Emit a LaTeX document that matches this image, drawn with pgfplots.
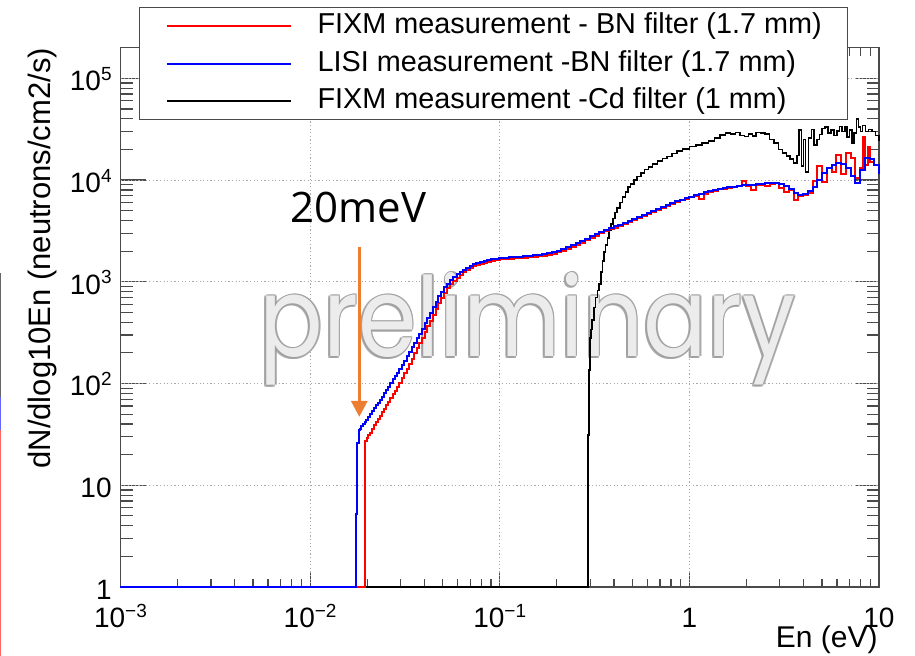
\documentclass[border=0pt]{standalone}
\usepackage{fontspec}
\setmainfont{Liberation Sans}
\newfontfamily\wmfont{Poppins}
\newfontfamily\annfont{Open Sans}
\usepackage{graphicx}
\usepackage{pgfplots}
\pgfplotsset{compat=1.18}
\usepackage{pgfplotstable}
\usetikzlibrary{arrows.meta}

\definecolor{framegray}{HTML}{4A4A4A}
\definecolor{gridgray}{HTML}{A8A8A8}
\definecolor{arroworange}{HTML}{ED7D31}
\newcommand{\sps}[1]{\raisebox{5.2pt}{\fontsize{9.5}{9.5}\selectfont #1}}
\newcommand{\wmtext}{\resizebox{268pt}{42pt}{\wmfont preliminary}}
\tikzset{wmrim/.style={anchor=base west, inner sep=0pt, text=gray!75, opacity=0.85}}

% LISI measurement, BN filter (1.7 mm)
\pgfplotstableread{
x y
0.001 1
0.01740 5.2
0.01770 26
0.01800 35
0.01830 36
0.01860 38
0.01900 40
0.01940 42
0.01980 44
0.02020 47
0.02070 50
0.02120 54
0.02170 57
0.02220 61
0.02270 65
0.02330 69
0.02390 74
0.02450 80
0.02510 86
0.02580 93
0.02650 102
0.02720 110
0.02800 118
0.02880 127
0.02960 138
0.03050 152
0.03140 168
0.03230 185
0.03330 204
0.03430 226
0.03540 250
0.03650 278
0.03770 310
0.03890 345
0.04020 390
0.04150 440
0.04290 495
0.04440 560
0.04590 640
0.04750 720
0.04920 800
0.05100 880
0.05290 960
0.05490 1040
0.05700 1110
0.05920 1180
0.06150 1250
0.06400 1320
0.06660 1380
0.06940 1440
0.07230 1490
0.07540 1530
0.07870 1570
0.08220 1610
0.08600 1640
0.09000 1670
0.09430 1690
0.09880 1710
0.1000 1720
0.1059 1730
0.1122 1740
0.1189 1755
0.1259 1770
0.1334 1785
0.1413 1800
0.1496 1815
0.1585 1835
0.1679 1860
0.1778 1900
0.1884 1950
0.1995 2020
0.2113 2100
0.2239 2190
0.2371 2290
0.2512 2400
0.2661 2520
0.2818 2650
0.2985 2790
0.3162 2940
0.3350 3080
0.3548 3220
0.3758 3360
0.3981 3500
0.4217 3650
0.4467 3800
0.4732 3960
0.5012 4130
0.5309 4320
0.5623 4520
0.5957 4730
0.6310 4950
0.6683 5180
0.7079 5420
0.7499 5670
0.7943 5920
0.8414 6170
0.8913 6420
0.9441 6650
1.000 6870
1.059 7100
1.122 7330
1.189 7560
1.259 7780
1.334 7990
1.413 8180
1.496 8350
1.585 8500
1.679 8640
1.778 8760
1.884 8870
1.995 8960
2.113 9040
2.239 9100
2.371 9150
2.512 9250
2.661 9380
2.818 9420
2.985 9200
3.162 8700
3.350 8100
3.548 7500
3.758 7100
3.981 7300
4.217 7800
4.467 8600
4.732 10000
5.012 11800
5.309 13200
5.623 14200
5.957 14700
6.310 14300
6.683 13000
7.079 11000
7.499 9400
7.943 12500
8.414 16300
8.913 16200
9.441 14000
10.00 11500
}\tlisi

% FIXM measurement, BN filter (1.7 mm)
\pgfplotstableread{
x y
0.001 1
0.01948 27
0.01990 29
0.02030 31
0.02070 33
0.02120 36
0.02170 39
0.02220 42
0.02270 45
0.02330 48
0.02390 52
0.02450 56
0.02510 61
0.02580 66
0.02650 72
0.02720 78
0.02800 85
0.02880 93
0.02960 102
0.03050 113
0.03140 126
0.03230 140
0.03330 157
0.03430 176
0.03540 198
0.03650 222
0.03770 250
0.03890 282
0.04020 320
0.04150 365
0.04290 415
0.04440 475
0.04590 545
0.04750 620
0.04920 700
0.05100 780
0.05290 860
0.05490 945
0.05700 1020
0.05920 1095
0.06150 1165
0.06400 1235
0.06660 1300
0.06940 1360
0.07230 1415
0.07540 1460
0.07870 1500
0.08220 1540
0.08600 1575
0.09000 1605
0.09430 1630
0.09880 1650
0.1000 1665
0.1059 1680
0.1122 1690
0.1189 1705
0.1259 1715
0.1334 1730
0.1413 1745
0.1496 1760
0.1585 1780
0.1679 1800
0.1778 1835
0.1884 1880
0.1995 1945
0.2113 2020
0.2239 2110
0.2371 2200
0.2512 2310
0.2661 2430
0.2818 2560
0.2985 2700
0.3162 2850
0.3350 2990
0.3548 3130
0.3758 3270
0.3981 3410
0.4217 3560
0.4467 3710
0.4732 3870
0.5012 4040
0.5309 4230
0.5623 4420
0.5957 4630
0.6310 4850
0.6683 5080
0.7079 5330
0.7499 5580
0.7943 5850
0.8414 6100
0.8913 6350
0.9441 6580
1.000 6800
1.059 7000
1.122 6500
1.189 7300
1.259 7600
1.334 7800
1.413 8100
1.496 8250
1.585 8400
1.679 8500
1.778 8650
1.884 9700
1.995 8800
2.113 8000
2.239 8900
2.371 9000
2.512 8700
2.661 9100
2.818 9300
2.985 8400
3.162 7700
3.350 8000
3.548 6300
3.758 6900
3.981 7200
4.217 7400
4.467 9800
4.732 13800
5.012 9500
5.309 13000
5.623 12000
5.957 17800
6.310 11500
6.683 18600
7.079 16500
7.499 10500
7.943 13000
8.200 26500
8.414 14000
8.700 21300
9.000 15000
9.441 14000
10.00 12000
}\tfixmbn

% FIXM measurement, Cd filter (1 mm)
\pgfplotstableread{
x y
0.001 1
0.2920 31
0.2965 136
0.2985 280
0.3020 340
0.3070 420
0.3130 560
0.3200 700
0.3270 820
0.3340 950
0.3410 1250
0.3480 1600
0.3550 1950
0.3620 2300
0.3700 2700
0.3780 3200
0.3860 3700
0.3950 4200
0.4050 4800
0.4150 5300
0.4300 6000
0.4450 6800
0.4600 7600
0.4750 8500
0.4900 9200
0.5100 10000
0.5300 10800
0.5550 11800
0.5800 12700
0.6100 13500
0.6400 14300
0.6800 15300
0.7200 16300
0.7600 17000
0.8100 18200
0.8600 19200
0.9200 20300
1.000 21300
1.080 22200
1.170 23200
1.260 24300
1.360 26000
1.450 27700
1.550 29000
1.650 28200
1.750 29300
1.850 27400
1.950 26700
2.050 28500
2.150 27000
2.250 29300
2.370 29000
2.500 28200
2.650 25000
2.800 23000
2.950 20000
3.100 18500
3.250 17200
3.400 16000
3.550 14800
3.700 17500
3.800 31000
3.900 13800
4.000 25000
4.100 12000
4.250 26000
4.400 31500
4.550 22000
4.700 25000
4.850 28000
5.000 32000
5.200 33000
5.400 29000
5.600 31000
5.800 27500
6.000 30500
6.200 33500
6.400 30000
6.600 33000
6.800 26500
7.000 31000
7.200 23000
7.400 29000
7.600 40000
7.800 33000
8.000 30000
8.200 34500
8.500 30000
8.800 31500
9.200 30000
9.600 27500
10.00 24000
}\tfixmcd

\begin{document}
\begin{tikzpicture}
\useasboundingbox (-60.25pt,-34.5pt) rectangle (397.25pt,293.5pt);

% coloured strips along the left edge
\fill[gray!80!black] (-60.25pt,95pt) rectangle (-59.5pt,157pt);
\fill[blue!60] (-60.25pt,78.5pt) rectangle (-59.5pt,95pt);
\fill[red!60] (-60.25pt,-34.5pt) rectangle (-59.5pt,78.5pt);

% inward tick marks on the frame (drawn first, so the legend box covers them):
% 94.8125pt per decade in energy, 50.867pt per decade in flux
\begin{scope}[framegray, line width=0.6pt]
\foreach \d in {0,1,2,3,4} {
  \draw ({94.8125*\d*1pt},0pt) -- ++(0pt,7.5pt);
  \draw ({94.8125*\d*1pt},269.65pt) -- ++(0pt,-7.5pt);
}
\foreach \d in {0,1,2,3} {
  \foreach \m in {0.30103,0.47712,0.60206,0.69897,0.77815,0.84510,0.90309,0.95424} {
    \draw ({94.8125*(\d+\m)*1pt},0pt) -- ++(0pt,4pt);
    \draw ({94.8125*(\d+\m)*1pt},269.65pt) -- ++(0pt,-4pt);
  }
}
\foreach \d in {1,2,3,4,5} {
  \draw (0pt,{50.867*\d*1pt}) -- ++(12.5pt,0pt);
  \draw (379.25pt,{50.867*\d*1pt}) -- ++(-11.5pt,0pt);
}
\foreach \d in {0,1,2,3,4} {
  \foreach \m in {0.30103,0.47712,0.60206,0.69897,0.77815,0.84510,0.90309,0.95424} {
    \draw (0pt,{50.867*(\d+\m)*1pt}) -- ++(6pt,0pt);
    \draw (379.25pt,{50.867*(\d+\m)*1pt}) -- ++(-6pt,0pt);
  }
}
\end{scope}

\begin{axis}[
  scale only axis, width=379.25pt, height=269.65pt,
  xmode=log, ymode=log,
  xmin=1e-3, xmax=10, ymin=1, ymax=2e5,
  axis line style={framegray, line width=0.7pt},
  major grid style={gridgray, line width=0.5pt, dash pattern=on 0.6pt off 1.2pt},
  grid=major,
  major tick length=0pt, minor tick length=0pt,
  clip=false,
  xtick={0.001,0.01,0.1,1,10},
  xticklabels={10\sps{−3},10\sps{−2},10\sps{−1},1,10},
  ytick={1,10,100,1000,10000,100000},
  yticklabels={1,10,10\sps{2},10\sps{3},10\sps{4},10\sps{5}},
  xticklabel style={font=\fontsize{14}{14}\selectfont, anchor=base, inner sep=0pt, yshift=-20.5pt},
  yticklabel style={font=\fontsize{14}{14}\selectfont, anchor=base east, inner sep=0pt, xshift=-4.25pt, yshift=-6.2pt},
  xlabel={En (eV)},
  ylabel={dN/dlog10En (neutrons/cm2/s)},
  every axis x label/.style={at={(axis description cs:0.9987,-0.1131)}, anchor=base east,
    font=\fontsize{15}{15}\selectfont, inner sep=0pt},
  every axis y label/.style={at={(axis description cs:-0.0929,1.0)}, anchor=base east, rotate=90,
    font=\fontsize{15.5}{15.5}\selectfont, inner sep=0pt},
  legend cell align=left,
  legend style={at={(axis description cs:0.0244,1.0755)}, anchor=north west,
    draw=framegray, line width=0.6pt, fill=white,
    inner xsep=13pt, inner ysep=2.5pt, row sep=5.25pt,
    font=\fontsize{14.4}{14.4}\selectfont,
    nodes={inner sep=0pt, text height=10.5pt, text depth=3pt},
    /tikz/every odd column/.style={column sep=13pt}},
  legend image code/.code={\draw[#1] (0pt,0pt) -- (62pt,0pt);},
]
% watermark: dark rim, then light face
\node[wmrim, xshift=-0.9pt, yshift=-0.9pt] at (axis cs:0.005380,182.6) {\wmtext};
\node[wmrim, xshift=0.8pt] at (axis cs:0.005380,182.6) {\wmtext};
\node[wmrim, xshift=-0.9pt] at (axis cs:0.005380,182.6) {\wmtext};
\node[wmrim, yshift=-0.9pt] at (axis cs:0.005380,182.6) {\wmtext};
\node[wmrim, yshift=0.7pt] at (axis cs:0.005380,182.6) {\wmtext};
\node[wmrim, xshift=0.6pt, yshift=0.6pt] at (axis cs:0.005380,182.6) {\wmtext};
\node[anchor=base west, inner sep=0pt, text=gray!8, opacity=0.9]
  at (axis cs:0.005380,182.6) {\wmtext};

\addplot[const plot, black, line width=0.8pt, forget plot] table[x=x, y=y] {\tfixmcd};
\addplot[const plot, red, line width=1pt, forget plot] table[x=x, y=y] {\tfixmbn};
\addplot[const plot, blue, line width=1pt, forget plot] table[x=x, y=y] {\tlisi};

% thermal-energy marker
\draw[arroworange, line width=1.5pt, -{Triangle[width=8pt,length=8pt]}]
  (axis cs:0.01817,2204) -- (axis cs:0.01817,47);
\node[anchor=base west, inner sep=0pt, font=\annfont\fontsize{21}{21}\selectfont]
  at (axis cs:0.00783,3795) {20meV};

\addlegendimage{red, line width=1pt}
\addlegendentry{FIXM measurement - BN filter (1.7 mm)}
\addlegendimage{blue, line width=1pt}
\addlegendentry{LISI measurement -BN filter (1.7 mm)}
\addlegendimage{black, line width=0.8pt}
\addlegendentry{FIXM measurement -Cd filter (1 mm)}
\end{axis}
\end{tikzpicture}
\end{document}
